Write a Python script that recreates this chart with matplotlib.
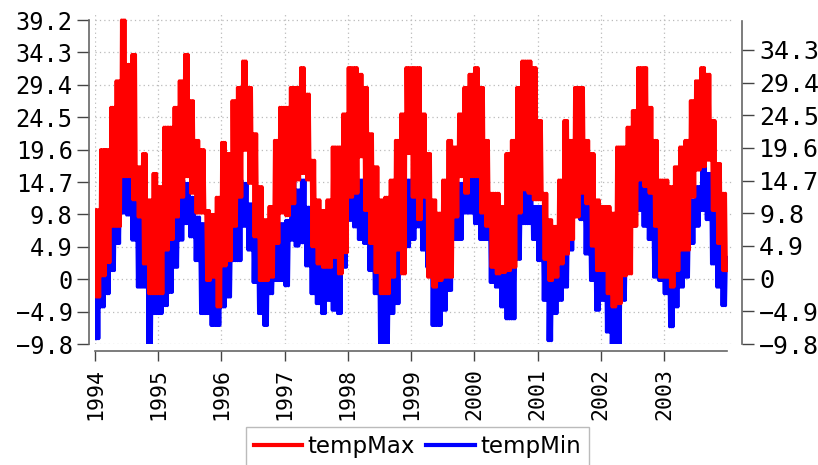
import matplotlib.pyplot as plt
import matplotlib.dates as mdates
import numpy as np
import pandas as pd

# Daily max / min temperature 1994-2003, read off the chart as the upper and
# lower edge of each line for every month (one row per year)
max_hi = [10.5, 19.6, 19.6, 26.0, 30.0, 39.2, 32.5, 34.0, 17.0, 19.0, 12.0, 16.0,
          14.0, 23.0, 23.0, 26.0, 30.0, 34.0, 27.0, 21.0, 19.6, 10.4, 9.8, 12.4,
          20.7, 19.0, 27.0, 29.0, 33.0, 29.0, 22.0, 14.0, 9.0, 11.0, 21.0, 26.0,
          26.0, 29.0, 29.0, 32.0, 28.0, 18.0, 12.0, 10.4, 12.0, 20.0, 20.0, 25.0,
          32.0, 32.0, 31.0, 29.0, 22.0, 17.0, 12.0, 12.4, 15.0, 21.0, 25.0, 32.0,
          32.0, 32.0, 25.0, 19.0, 12.0, 10.0, 15.0, 21.0, 20.0, 25.0, 29.0, 31.0,
          32.0, 29.0, 21.0, 13.0, 13.0, 11.0, 19.0, 21.0, 29.0, 33.0, 33.0, 32.0,
          24.0, 13.0, 9.0, 8.0, 15.0, 24.0, 21.0, 29.0, 29.0, 21.0, 19.0, 12.0,
          11.0, 11.0, 10.0, 20.0, 20.0, 23.0, 25.5, 32.0, 32.0, 26.0, 21.0, 15.0,
          15.0, 14.0, 17.0, 20.0, 21.0, 27.0, 30.0, 32.0, 31.0, 24.0, 17.5, 13.0]
max_lo = [-2.7, 0.5, 2.5, 8.0, 8.0, 15.5, 15.5, 12.0, 9.4, 2.3, -2.2, -2.2,
          -2.2, 4.4, 6.0, 9.4, 12.4, 15.5, 13.0, 10.0, 10.0, -0.2, 0.3, -4.2,
          2.0, 2.8, 8.0, 12.4, 19.5, 14.5, 6.4, -0.2, -0.2, 0.3, 5.4, 10.0,
          9.6, 11.4, 15.0, 16.0, 15.0, 4.9, 2.3, 1.8, 1.8, 3.3, 0.8, 4.0,
          12.4, 13.0, 18.5, 10.4, 5.4, 1.0, -2.2, -2.2, 0.3, 4.4, 0.8, 19.0,
          12.4, 9.0, 12.4, 0.3, -1.2, -0.2, 0.3, 0.3, 9.4, 15.5, 13.0, 15.5,
          15.5, 10.0, 8.0, 1.8, 0.8, 1.0, 1.3, 1.8, 10.0, 13.5, 13.0, 12.0,
          12.0, 3.0, -0.2, 0.3, 2.3, 3.8, 6.0, 9.4, 13.0, 11.4, 5.0, 1.3,
          1.3, -2.2, -4.2, -3.7, 0.5, 0.8, 8.0, 15.0, 14.0, 13.0, 8.0, 0.3,
          0.3, -1.2, 1.3, 4.4, 4.4, 12.4, 16.5, 17.0, 18.0, 10.4, 5.4, 1.3]
min_hi = [6.0, 7.9, 10.4, 13.0, 15.0, 15.7, 15.5, 15.0, 10.9, 8.4, 5.4, 0.8,
          4.0, 5.0, 8.0, 12.0, 15.0, 14.5, 12.4, 9.4, 8.4, 7.0, 4.3, 6.9,
          5.9, 6.9, 10.4, 15.0, 14.5, 11.4, 8.4, 5.4, 3.9, 2.3, 6.4, 8.4,
          8.9, 17.0, 13.5, 15.0, 10.9, 10.4, 5.9, 4.4, 5.4, 9.4, 8.9, 16.0,
          16.0, 15.0, 15.0, 10.4, 7.9, 6.4, 1.8, 1.3, 1.8, 5.9, 9.4, 15.0,
          15.0, 15.0, 12.4, 8.9, 5.4, 1.3, 6.4, 7.9, 10.9, 14.5, 18.5, 16.0,
          19.0, 15.0, 12.4, 11.0, 5.4, 2.8, 3.3, 5.4, 12.4, 17.0, 15.5, 11.0,
          11.0, 6.4, 2.8, 3.8, 6.4, 9.4, 12.4, 16.0, 14.0, 12.4, 7.4, 4.4,
          8.4, 5.4, 2.3, 1.3, 4.9, 9.0, 11.4, 16.0, 16.0, 13.0, 9.0, 5.4,
          6.4, 2.3, 4.4, 6.4, 9.0, 12.0, 14.0, 17.0, 16.0, 11.4, 6.0, 3.3]
min_lo = [-9.0, -4.2, -2.2, 1.3, 5.4, 10.0, 9.7, 5.9, -1.2, -1.2, -9.8, -5.2,
          -5.2, -4.0, -2.0, 1.8, 5.9, 8.4, 6.4, 2.8, -5.2, -5.2, -7.0, -7.0,
          -4.2, -2.7, 2.8, 2.8, 8.0, 4.4, -0.5, -5.2, -7.0, -2.2, -0.2, -0.2,
          -1.0, 5.9, 5.0, 5.5, 2.0, -2.2, -3.7, -5.2, -3.2, -4.7, -5.2, 1.8,
          8.9, 7.9, 6.0, 5.4, 1.3, -2.2, -9.8, -9.8, -5.2, -3.7, 1.3, 4.9,
          6.0, 7.9, 4.4, 1.8, -7.0, -7.0, -4.7, -1.7, 6.0, 6.0, 10.0, 10.0,
          8.4, 6.0, 6.0, -0.5, -1.2, -4.2, -6.0, -6.0, 3.0, 8.4, 8.4, 6.0,
          2.8, -3.2, -9.3, -5.2, -3.2, -1.2, 4.4, 10.0, 9.0, 3.8, -0.2, -4.7,
          -3.2, -8.0, -9.8, -9.8, -3.2, 2.3, 8.0, 10.4, 8.0, 6.0, 0.3, -0.2,
          -2.2, -7.2, -4.2, -1.2, 0.3, 5.4, 8.0, 10.4, 9.0, 2.3, -1.2, -4.0]

y_ticks = [-9.8, -4.9, 0, 4.9, 9.8, 14.7, 19.6, 24.5, 29.4, 34.3, 39.2]
years = list(range(1994, 2004))
series = ['tempMax', 'tempMin']

# the daily values swing between the two edges many times a month:
# draw each month as three upper/lower swings
months = pd.date_range('1994-01-01', periods=len(max_hi), freq='MS')
days = [2, 7, 12, 17, 22, 27]
t = np.ravel(np.column_stack([(months + pd.Timedelta(days=d)).values for d in days]))
temp_max = np.ravel(np.column_stack([max_hi, max_lo] * 3))
temp_min = np.ravel(np.column_stack([min_lo, min_hi] * 3))

mono = 'DejaVu Sans Mono'
fig = plt.figure(figsize=(8.18, 4.65), dpi=100)
ax = fig.add_axes([95/818, 121/465, 639/818, 331/465])

ax.plot(t, temp_min, color='#0000ff', lw=2.2)
ax.plot(t, temp_max, color='#ff0000', lw=2.2)

start, end = pd.Timestamp('1994-01-01'), pd.Timestamp('2003-12-31')
ax.set_xlim(start, pd.Timestamp('2004-02-10'))
ax.set_ylim(-9.8, 40.26)

ax.set_yticks(y_ticks, labels=[f'{v:g}'.replace('-', '\u2212') for v in y_ticks])
ax.set_xticks([pd.Timestamp(f'{y}-01-01') for y in years],
              labels=[str(y) for y in years])
ax.tick_params(axis='y', length=8.3, width=1, color='#444444', pad=3.5,
               labelsize=17, labelfontfamily=mono)
ax.tick_params(axis='x', length=7, width=1, color='#444444', pad=5.5,
               labelsize=15.5, labelrotation=90, labelfontfamily=mono)

ax.grid(True, color='#bbbbbb', linestyle=(0, (1, 2.5)), linewidth=0.9)

ax.spines['top'].set_visible(False)
ax.spines['right'].set_visible(False)
ax.spines['left'].set_position(('outward', 4.3))
ax.spines['bottom'].set_position(('outward', 5))
ax.spines['left'].set_bounds(-9.8, 39.2)
ax.spines['bottom'].set_bounds(mdates.date2num(start), mdates.date2num(end))
for s in ['left', 'bottom']:
    ax.spines[s].set_color('#666666')
    ax.spines[s].set_linewidth(1.2)

# right hand axis
ax2 = ax.twinx()
ax2.set_ylim(-9.8, 39.84)
r_ticks = y_ticks[:-1]
ax2.set_yticks(r_ticks, labels=[f'{v:g}'.replace('-', '\u2212') for v in r_ticks])
ax2.tick_params(axis='y', length=8.3, width=1, color='#444444', pad=4,
                labelsize=18, labelfontfamily=mono)
for s in ['top', 'left', 'bottom']:
    ax2.spines[s].set_visible(False)
ax2.spines['right'].set_position(('outward', 5.8))
ax2.spines['right'].set_bounds(-9.8, 38.7)
ax2.spines['right'].set_color('#666666')
ax2.spines['right'].set_linewidth(1.2)

handles = [plt.Line2D([], [], color='#ff0000', lw=3),
           plt.Line2D([], [], color='#0000ff', lw=3)]
leg = fig.legend(handles, series, loc='upper left',
                 bbox_to_anchor=(245.7/818, 1 - 427.3/465), ncol=2,
                 frameon=True, fancybox=False, edgecolor='#aaaaaa',
                 prop={'family': 'DejaVu Sans', 'size': 16.5},
                 handlelength=2.1, handletextpad=0.25, columnspacing=0.5,
                 borderpad=0.35, borderaxespad=0)
leg.get_frame().set_linewidth(1)

fig.savefig('out.png', dpi=100)
